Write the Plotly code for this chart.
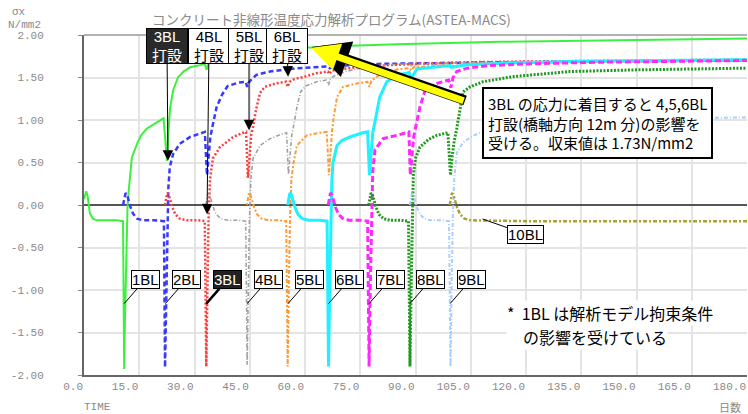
import plotly.graph_objects as go

# ---------------- data ----------------
series_names = ["1BL", "2BL", "3BL", "4BL", "5BL", "6BL", "7BL", "8BL", "9BL", "10BL"]
placement_days = [0.0, 10.8, 22.0, 33.1, 44.2, 55.3, 66.3, 77.3, 88.4, 99.3]

days_1bl = [0, 0.3, 0.6, 1.0, 1.6, 2.4, 3.5, 6, 9, 10.6, 10.9, 11.1, 11.4, 11.8, 12.1, 12.6, 13.0, 14.4,
            15.5, 17.1, 19.8, 21.6, 22.1, 22.5, 22.9, 23.4, 24.2, 25.5, 27.0, 28.8, 31.0, 32.8, 33.3,
            33.7, 35.0, 38, 42, 44.2, 44.6, 45.2, 50, 55.2, 55.6, 56.2, 60.3, 70, 85, 100, 113, 130, 150, 180]
stress_1bl = [0.07, 0.13, 0.16, 0.10, -0.10, -0.16, -0.18, -0.18, -0.18, -0.19, -1.93, -1.40, -0.60, -0.05,
              0.15, 0.41, 0.56, 0.72, 0.82, 0.90, 0.97, 1.02, 0.75, 0.52, 0.85, 1.15, 1.35, 1.50, 1.57, 1.62,
              1.64, 1.66, 1.59, 1.66, 1.70, 1.74, 1.78, 1.79, 1.76, 1.80, 1.82, 1.83, 1.81, 1.84, 1.85, 1.87,
              1.89, 1.91, 1.92, 1.93, 1.94, 1.96]

days_2bl = [10.6, 10.9, 11.3, 11.7, 12.1, 12.6, 13.3, 14.4, 16, 19, 21.7, 22.0, 22.3, 22.6, 22.9, 23.3, 24.2,
            26.0, 28.8, 31.5, 32.8, 33.1, 33.4, 33.8, 34.3, 35.0, 36.0, 37.5, 39.0, 42.0, 43.9, 44.3, 44.7,
            45.3, 46.8, 48.5, 50.5, 54.0, 55.1, 55.5, 56.0, 58.0, 63.0, 66.3, 66.7, 70, 80, 95, 115, 140, 180]
stress_2bl = [0.0, 0.08, 0.14, 0.12, 0.04, -0.02, -0.10, -0.16, -0.18, -0.18, -0.19, -1.91, -1.2, -0.3, 0.2,
              0.45, 0.60, 0.72, 0.80, 0.84, 0.86, 0.6, 0.35, 0.55, 0.80, 0.95, 1.15, 1.30, 1.40, 1.44, 1.45,
              1.39, 1.44, 1.47, 1.53, 1.55, 1.57, 1.59, 1.60, 1.57, 1.60, 1.61, 1.62, 1.63, 1.61, 1.64, 1.66,
              1.67, 1.68, 1.69, 1.70]

days_3bl = [22.0, 22.3, 22.6, 23.0, 23.5, 24.0, 24.8, 26.0, 28, 31, 32.8, 33.2, 33.5, 33.8, 34.2, 35.0, 36.9,
            40.5, 43.2, 44.0, 44.5, 44.9, 45.4, 45.9, 46.7, 47.8, 49.1, 52.1, 54.8, 55.3, 55.8, 57, 60, 63,
            66.2, 66.6, 67.2, 72, 77.3, 77.7, 80, 90, 105, 125, 150, 180]
stress_3bl = [0.0, 0.08, 0.14, 0.12, 0.04, -0.03, -0.11, -0.16, -0.18, -0.18, -0.19, -1.90, -1.0, -0.2, 0.3,
              0.55, 0.68, 0.80, 0.85, 0.86, 0.32, 0.60, 0.82, 0.92, 1.12, 1.32, 1.39, 1.43, 1.45, 1.39, 1.45,
              1.48, 1.51, 1.55, 1.57, 1.54, 1.58, 1.61, 1.63, 1.61, 1.64, 1.66, 1.68, 1.69, 1.70, 1.71]

days_4bl = [33.1, 33.4, 33.7, 34.1, 34.6, 35.1, 35.9, 37.1, 39, 42, 43.9, 44.3, 44.6, 44.9, 45.3, 45.9, 47.8,
            50.5, 54.0, 55.0, 55.5, 55.9, 56.4, 57.0, 57.8, 58.8, 60.2, 63.2, 65.8, 66.4, 66.9, 68, 71, 74,
            77.2, 77.6, 78.3, 83, 88.4, 88.8, 92, 100, 115, 135, 160, 180]
stress_4bl = [0.0, 0.08, 0.14, 0.12, 0.04, -0.03, -0.11, -0.16, -0.18, -0.18, -0.19, -1.88, -1.0, -0.2, 0.3,
              0.55, 0.70, 0.78, 0.84, 0.85, 0.36, 0.60, 0.82, 0.95, 1.15, 1.33, 1.40, 1.45, 1.47, 1.41, 1.49,
              1.52, 1.57, 1.60, 1.62, 1.60, 1.63, 1.65, 1.66, 1.64, 1.66, 1.67, 1.68, 1.69, 1.70, 1.71]

days_5bl = [44.2, 44.5, 44.8, 45.2, 45.7, 46.2, 47.0, 48.2, 50, 53, 54.9, 55.3, 55.6, 55.9, 56.3, 56.9, 57.8,
            60.5, 64.0, 65.9, 66.5, 66.9, 67.3, 67.8, 68.7, 70.3, 74.1, 76.9, 77.5, 78.0, 79.5, 82.2, 85.8,
            88.4, 88.8, 89.5, 95, 99.3, 99.7, 105, 113, 130, 155, 180]
stress_5bl = [0.0, 0.08, 0.14, 0.12, 0.04, -0.03, -0.11, -0.16, -0.18, -0.18, -0.19, -1.90, -1.0, -0.2, 0.3,
              0.50, 0.70, 0.82, 0.85, 0.86, 0.35, 0.62, 0.85, 1.04, 1.27, 1.39, 1.43, 1.45, 1.39, 1.46, 1.51,
              1.57, 1.60, 1.61, 1.58, 1.62, 1.64, 1.65, 1.63, 1.66, 1.67, 1.68, 1.69, 1.70]

days_6bl = [55.3, 55.6, 55.9, 56.3, 56.8, 57.3, 58.1, 59.3, 61, 64, 66.0, 66.4, 66.7, 67.0, 67.3, 67.6, 68.7,
            70.0, 72.2, 75.7, 77.0, 77.5, 77.9, 78.4, 79.3, 80.3, 82.2, 85.0, 87.7, 88.3, 88.8, 90.4, 94.7,
            99.3, 99.7, 104, 115, 135, 155, 180]
stress_6bl = [0.0, 0.08, 0.14, 0.12, 0.04, -0.03, -0.11, -0.16, -0.18, -0.18, -0.19, -1.90, -1.0, -0.2, 0.3,
              0.50, 0.70, 0.76, 0.80, 0.85, 0.86, 0.35, 0.60, 0.85, 1.05, 1.27, 1.45, 1.53, 1.55, 1.56, 1.49,
              1.60, 1.62, 1.64, 1.62, 1.65, 1.67, 1.69, 1.70, 1.71]

days_7bl = [66.3, 66.6, 66.9, 67.3, 67.8, 68.3, 69.1, 70.3, 72, 75, 77.0, 77.4, 77.7, 78.0, 78.4, 79.0, 81.2,
            85.0, 87.7, 88.2, 88.6, 89.0, 89.5, 90.2, 91.2, 92.6, 95.8, 99.0, 99.6, 100.2, 101.2, 104, 110,
            120, 140, 160, 180]
stress_7bl = [0.0, 0.08, 0.14, 0.12, 0.04, -0.03, -0.11, -0.16, -0.18, -0.18, -0.19, -1.90, -1.0, -0.2, 0.4,
              0.65, 0.78, 0.82, 0.85, 0.86, 0.35, 0.60, 0.80, 0.95, 1.15, 1.35, 1.43, 1.47, 1.38, 1.50, 1.57,
              1.61, 1.64, 1.66, 1.68, 1.69, 1.70]

days_8bl = [77.3, 77.6, 77.9, 78.3, 78.8, 79.3, 80.1, 81.3, 83, 86, 88.1, 88.5, 88.8, 89.1, 89.4, 90.0, 91.2,
            93.5, 95.8, 98.8, 99.5, 99.9, 100.5, 101.2, 102.1, 102.9, 104.8, 108.3, 116.4, 131.9, 150, 180]
stress_8bl = [0.0, 0.08, 0.14, 0.12, 0.04, -0.03, -0.11, -0.16, -0.18, -0.18, -0.19, -1.90, -1.0, -0.2, 0.35,
              0.55, 0.68, 0.77, 0.82, 0.85, 0.35, 0.55, 0.75, 0.90, 1.15, 1.33, 1.39, 1.45, 1.51, 1.57, 1.59,
              1.61]

days_9bl = [88.4, 88.7, 89.0, 89.4, 89.9, 90.4, 91.2, 92.4, 94, 97, 99.1, 99.5, 99.8, 100.1, 100.5, 101.2,
            102.8, 105, 108, 115, 125, 140, 160, 180]
stress_9bl = [0.0, 0.08, 0.14, 0.12, 0.04, -0.03, -0.11, -0.16, -0.18, -0.18, -0.19, -1.90, -1.0, -0.2, 0.30,
              0.61, 0.73, 0.80, 0.86, 0.93, 0.97, 1.00, 1.02, 1.03]

days_10bl = [99.3, 99.6, 99.9, 100.3, 100.8, 101.3, 102.1, 103.3, 105, 120, 150, 180]
stress_10bl = [0.0, 0.08, 0.14, 0.12, 0.04, -0.03, -0.11, -0.16, -0.18, -0.19, -0.19, -0.19]

x_tick_vals = [0, 15, 30, 45, 60, 75, 90, 105, 120, 135, 150, 165, 180]
x_tick_text = ["0.0", "15.0", "30.0", "45.0", "60.0", "75.0", "90.0", "105.0", "120.0", "135.0",
               "150.0", "165.0", "180.0"]
y_tick_vals = [2.0, 1.5, 1.0, 0.5, 0.0, -0.5, -1.0, -1.5, -2.0]
y_tick_text = ["2.00", "1.50", "1.00", "0.50", "0.00", "-0.50", "-1.00", "-1.50", "-2.00"]

title_text = "コンクリート非線形温度応力解析プログラム(ASTEA-MACS)"
cast_labels = ["3BL<br>打設", "4BL<br>打設", "5BL<br>打設", "6BL<br>打設"]
note_main = "3BL の応力に着目すると 4,5,6BL<br>打設(橋軸方向 12m 分)の影響を<br>受ける。収束値は 1.73N/mm2"
note_sub_lines = ["*  1BL は解析モデル拘束条件", "　の影響を受けている"]

# ---------------- styles ----------------
all_days = [days_1bl, days_2bl, days_3bl, days_4bl, days_5bl, days_6bl, days_7bl, days_8bl, days_9bl, days_10bl]
all_stress = [stress_1bl, stress_2bl, stress_3bl, stress_4bl, stress_5bl, stress_6bl, stress_7bl, stress_8bl,
              stress_9bl, stress_10bl]
line_styles = [
    dict(color="#3ef03e", width=2, dash="solid"),
    dict(color="#3a3aff", width=2.5, dash="5px,3px"),
    dict(color="#ff3c3c", width=2.5, dash="2px,2px"),
    dict(color="#a0a0a0", width=1.6, dash="4px,2px,1px,2px"),
    dict(color="#ff9a35", width=2, dash="2px,2px,4px,2px"),
    dict(color="#20f0ff", width=3, dash="solid"),
    dict(color="#ff28ff", width=3, dash="6px,3px"),
    dict(color="#1f9a1f", width=3, dash="2px,1.5px"),
    dict(color="#a8ceff", width=2, dash="4px,2px,1px,2px"),
    dict(color="#a8a030", width=2.5, dash="4px,2px,2px,2px"),
]

W, H = 748, 414
ML, MR, MT, MB = 84, 1, 35, 39
PW, PH = W - ML - MR, H - MT - MB


def px(xp):
    return (xp - ML) / PW


def py(yp):
    return (H - MB - yp) / PH


fig = go.Figure()
for name, d, s, st in zip(series_names, all_days, all_stress, line_styles):
    fig.add_trace(go.Scatter(x=d, y=s, mode="lines", name=name, line=st, showlegend=False,
                             hoverinfo="skip"))

MONO = "Liberation Mono, DejaVu Sans Mono, monospace"
SANS = "Liberation Sans, Noto Sans CJK JP, sans-serif"
CJK = "Noto Sans CJK JP, sans-serif"
GRAY = "#8a8a8a"

ann = []
# header texts
ann.append(dict(text=title_text, xref="paper", yref="paper", x=px(150), y=py(19), xanchor="left",
                yanchor="middle", showarrow=False, font=dict(family=CJK, size=13.5, color=GRAY)))
ann.append(dict(text="σx", xref="paper", yref="paper", x=px(10), y=py(12), xanchor="left",
                yanchor="middle", showarrow=False, font=dict(family=MONO, size=11, color=GRAY)))
ann.append(dict(text="N/mm2", xref="paper", yref="paper", x=px(6), y=py(25), xanchor="left",
                yanchor="middle", showarrow=False, font=dict(family=MONO, size=11, color=GRAY)))
ann.append(dict(text="TIME", xref="paper", yref="paper", x=px(82), y=py(407), xanchor="left",
                yanchor="middle", showarrow=False, font=dict(family=MONO, size=11, color=GRAY)))
ann.append(dict(text="日数", xref="paper", yref="paper", x=px(717), y=py(407), xanchor="left",
                yanchor="middle", showarrow=False, font=dict(family=CJK, size=11, color=GRAY)))

# BL labels with pointers at the plunge of each block
for i in range(9):
    dark = (i == 2)
    ann.append(dict(text=series_names[i], x=placement_days[i + 1] + 0.1, y=-1.16, xref="x", yref="y",
                    ax=21, ay=-24, showarrow=True, arrowhead=0, arrowwidth=2.5 if dark else 1,
                    arrowcolor="#000", bgcolor="#222" if dark else "#fff", bordercolor="#000",
                    borderwidth=1, borderpad=0,
                    font=dict(family=SANS, size=15, color="#fff" if dark else "#000")))
ann.append(dict(text=series_names[9], x=108.2, y=-0.165, xref="x", yref="y", ax=43, ay=15,
                showarrow=True, arrowhead=0, arrowwidth=1, arrowcolor="#000", bgcolor="#fff",
                bordercolor="#000", borderwidth=1, borderpad=0, font=dict(family=SANS, size=15, color="#000")))

# casting labels at the top with arrows
cast_tips = [(22.8, 0.52, -1, -115), (33.4, -0.11, 2, -168), (44.8, 0.88, 0, -84), (55.4, 1.51, -1, -31)]
for i, (lab, (tx, ty, axp, ayp)) in enumerate(zip(cast_labels, cast_tips)):
    dark = (i == 0)
    ann.append(dict(text=lab, x=tx, y=ty, xref="x", yref="y", ax=axp, ay=ayp, showarrow=True,
                    arrowhead=2, arrowsize=2.1, arrowwidth=1, arrowcolor="#000",
                    bgcolor="#2a2a2a" if dark else "#fff", bordercolor="#000", borderwidth=1,
                    borderpad=0, width=40, height=34,
                    font=dict(family=SANS, size=15, color="#fff" if dark else "#000")))

# yellow arrow (black outline behind)
ann.append(dict(text="", x=61.8, y=1.86, xref="x", yref="y", ax=155, ay=54, showarrow=True,
                arrowhead=2, arrowsize=0.75, arrowwidth=10, arrowcolor="#000"))
ann.append(dict(text="", x=61.4, y=1.855, xref="x", yref="y", ax=155, ay=54, showarrow=True,
                arrowhead=2, arrowsize=0.8, arrowwidth=7, arrowcolor="#ffff00", standoff=1))

# explanation boxes
ann.append(dict(text=note_main, xref="paper", yref="paper", x=px(482), y=py(87), xanchor="left",
                yanchor="top", showarrow=False, align="left", bgcolor="#fff", bordercolor="#000",
                borderwidth=2, borderpad=4, font=dict(family=CJK, size=15, color="#000")))
for line_text, line_y in zip(note_sub_lines, [313, 337]):
    ann.append(dict(text=line_text, xref="paper", yref="paper", x=px(506), y=py(line_y), xanchor="left",
                    yanchor="middle", showarrow=False, align="left", bgcolor="#fff", borderpad=0,
                    font=dict(family=CJK, size=16, color="#000")))

fig.update_layout(
    width=W, height=H, margin=dict(l=ML, r=MR, t=MT, b=MB, pad=0),
    paper_bgcolor="#fff", plot_bgcolor="#fff", showlegend=False,
    annotations=ann,
    shapes=[dict(type="line", xref="paper", yref="paper", x0=0, x1=1, y0=1, y1=1,
                 line=dict(color="#999", width=1.5))],
    xaxis=dict(range=[0, 180], tickvals=x_tick_vals, ticktext=x_tick_text, showgrid=True,
               gridcolor="#e4e4e4", gridwidth=1.5, showline=True, linecolor="#666", linewidth=2,
               ticks="", ticklabelposition="outside left", zeroline=False,
               tickfont=dict(family=MONO, size=11, color=GRAY)),
    yaxis=dict(range=[-2, 2], tickvals=y_tick_vals, ticktext=y_tick_text, showgrid=True,
               gridcolor="#e4e4e4", gridwidth=1.5, showline=True, linecolor="#666", linewidth=2,
               ticks="outside", ticklen=4, tickcolor="#888", ticklabelstandoff=32,
               zeroline=True, zerolinecolor="#555", zerolinewidth=2,
               tickfont=dict(family=MONO, size=11, color=GRAY)),
)

fig.write_html("out.html", config={"displayModeBar": False},
               post_script="document.body.style.margin='0';document.body.style.overflow='hidden';")
